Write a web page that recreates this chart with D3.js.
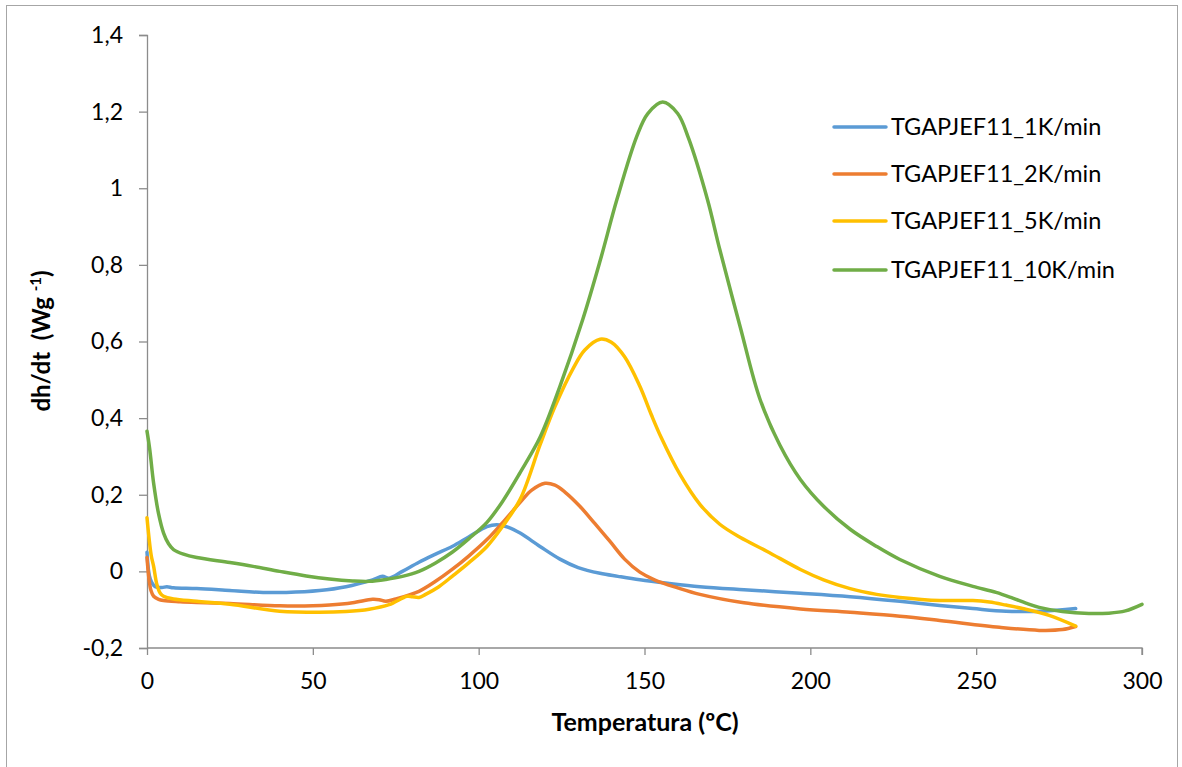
<!DOCTYPE html>
<html><head><meta charset="utf-8">
<script src="https://cdn.jsdelivr.net/npm/d3@7"></script>
<style>body{margin:0;background:#fff}svg{display:block}</style>
</head><body><svg id="c" width="1182" height="767"></svg>
<script>
const seriesNames = ["TGAPJEF11_1K/min","TGAPJEF11_2K/min","TGAPJEF11_5K/min","TGAPJEF11_10K/min"];
const seriesColors = ["#5B9BD5","#ED7D31","#FFC000","#70AD47"];
const xTicks = [0,50,100,150,200,250,300];
const yTicks = [-0.2,0,0.2,0.4,0.6,0.8,1,1.2,1.4];

const s1K = [[0,0.05],[1,-0.02],[2.5,-0.04],[4.5,-0.042],[6,-0.04],[8,-0.043],[15,-0.045],[25,-0.05],[35,-0.055],[42,-0.055],[52,-0.05],[60,-0.04],[68,-0.022],[71,-0.013],[73,-0.018],[77,0.0],[82,0.024],[87,0.045],[92,0.065],[97,0.09],[102.5,0.117],[105.5,0.122],[109,0.115],[112.5,0.1],[118.5,0.065],[124.5,0.032],[130,0.01],[136.6,-0.005],[142,-0.013],[148.6,-0.022],[157,-0.031],[166.7,-0.04],[180,-0.048],[197,-0.057],[212,-0.066],[227,-0.078],[239,-0.089],[249,-0.097],[259,-0.104],[270,-0.104],[280,-0.097]];
const s2K = [[0,0.036],[0.6,-0.02],[1.2,-0.05],[2,-0.065],[3.5,-0.073],[5,-0.076],[10,-0.079],[15,-0.081],[25,-0.084],[40,-0.09],[50,-0.09],[55,-0.088],[62,-0.082],[68,-0.073],[70,-0.074],[72,-0.078],[75,-0.072],[82,-0.052],[87,-0.026],[92,0.005],[97,0.04],[102.5,0.083],[107,0.125],[112.5,0.18],[116,0.212],[120,0.23],[123,0.225],[126,0.207],[130.5,0.17],[135,0.125],[139.6,0.078],[144,0.032],[148.6,-0.002],[153,-0.022],[160,-0.043],[166.7,-0.06],[180,-0.082],[197,-0.098],[212,-0.107],[227,-0.117],[239,-0.128],[257,-0.146],[269,-0.154],[276,-0.152],[280,-0.144]];
const s5K = [[0,0.14],[0.7,0.08],[1.3,0.04],[2,0.013],[3,-0.035],[4,-0.057],[5,-0.065],[8,-0.072],[15,-0.078],[25,-0.086],[40,-0.104],[52,-0.107],[60,-0.105],[67,-0.099],[73,-0.087],[78.4,-0.065],[80,-0.066],[82,-0.068],[84,-0.06],[88,-0.04],[92,-0.013],[97,0.022],[102.5,0.065],[107,0.115],[112.5,0.188],[118.5,0.33],[123,0.43],[128.5,0.53],[132,0.578],[136.6,0.606],[140,0.598],[144,0.56],[148.6,0.483],[152,0.41],[155,0.35],[160.7,0.253],[166.7,0.175],[172.7,0.123],[178.8,0.089],[187,0.052],[197,0.005],[204,-0.022],[212,-0.045],[220,-0.06],[227,-0.068],[239,-0.076],[249,-0.076],[254,-0.08],[259,-0.088],[264,-0.097],[272,-0.115],[280,-0.143]];
const s10K = [[0,0.366],[0.8,0.32],[2,0.23],[3.5,0.15],[5,0.1],[6.5,0.072],[8,0.057],[11,0.045],[15,0.036],[25,0.023],[32,0.013],[40,0.0],[48,-0.012],[55,-0.02],[62,-0.025],[67,-0.026],[72,-0.021],[77,-0.013],[82,0.0],[87,0.022],[92,0.05],[97,0.085],[102.5,0.128],[107,0.18],[112.5,0.258],[118.5,0.35],[124.5,0.483],[131.4,0.658],[136.6,0.81],[141.7,0.971],[147.7,1.136],[151,1.195],[155.5,1.225],[160,1.195],[163.3,1.13],[169,0.97],[172.7,0.84],[178.8,0.64],[184.8,0.45],[190.8,0.33],[197,0.24],[204,0.17],[212,0.11],[220,0.065],[227,0.031],[239,-0.013],[249,-0.039],[256,-0.055],[261,-0.07],[265,-0.083],[269,-0.094],[276,-0.105],[284,-0.11],[290,-0.109],[295,-0.103],[300,-0.086]];
const seriesData = [s1K, s2K, s5K, s10K];

const svg = d3.select("#c");
const font = "Lato, 'Open Sans', sans-serif";
svg.append("rect").attr("x",6.5).attr("y",5.5).attr("width",1171).attr("height",770)
  .attr("fill","none").attr("stroke","#a6a6a6").attr("stroke-width",1);

const x = d3.scaleLinear().domain([0,300]).range([147,1142]);
const y = d3.scaleLinear().domain([-0.2,1.4]).range([648,35]);
const fmt = d => d3.format(".1f")(d).replace("\u2212","-").replace(".",",").replace(/,0$/,"");

const xAxis = svg.append("g").attr("transform","translate(0,"+y(-0.2)+")")
  .call(d3.axisBottom(x).tickValues(xTicks).tickSize(7).tickPadding(18).tickFormat(d3.format("d")));
const yAxis = svg.append("g").attr("transform","translate("+x(0)+",0)")
  .call(d3.axisLeft(y).tickValues(yTicks).tickSize(8).tickPadding(16).tickFormat(fmt));
[xAxis,yAxis].forEach(a=>{
  a.select(".domain").attr("stroke","#8c8c8c").attr("stroke-width",1.3);
  a.selectAll(".tick line").attr("stroke","#8c8c8c").attr("stroke-width",1.3);
  a.selectAll("text").attr("font-family",font).attr("font-size",23).attr("fill","#000");
});
xAxis.select(".domain").attr("d","M"+x(0)+",0H"+x(300)+"V7");

const line = d3.line().x(d=>x(d[0])).y(d=>y(d[1])).curve(d3.curveCatmullRom.alpha(0.5));
seriesData.forEach((s,i)=>{
  svg.append("path").datum(s).attr("d",line).attr("fill","none")
    .attr("stroke",seriesColors[i]).attr("stroke-width",3.5).attr("stroke-linejoin","round").attr("stroke-linecap","round");
});

const legY = [127,174,221,270];
seriesNames.forEach((n,i)=>{
  svg.append("line").attr("x1",834).attr("x2",886).attr("y1",legY[i]).attr("y2",legY[i])
    .attr("stroke",seriesColors[i]).attr("stroke-width",3.5).attr("stroke-linecap","round");
  svg.append("text").attr("x",891).attr("y",legY[i]).attr("dy","0.36em")
    .attr("font-family",font).attr("font-size",23.5).text(n);
});

svg.append("text").attr("x",645).attr("y",731).attr("text-anchor","middle")
  .attr("font-family",font).attr("font-size",25).attr("font-weight","bold").text("Temperatura (ºC)");
const yt = svg.append("text").attr("transform","translate(50,341) rotate(-90)").attr("text-anchor","middle")
  .attr("font-family",font).attr("font-size",24).attr("font-weight","bold");
yt.append("tspan").text("dh/dt\u00a0\u00a0(Wg ");
yt.append("tspan").attr("font-size",15).attr("dy","-9").text("-1");
yt.append("tspan").attr("dy","9").text(")");
</script></body></html>
